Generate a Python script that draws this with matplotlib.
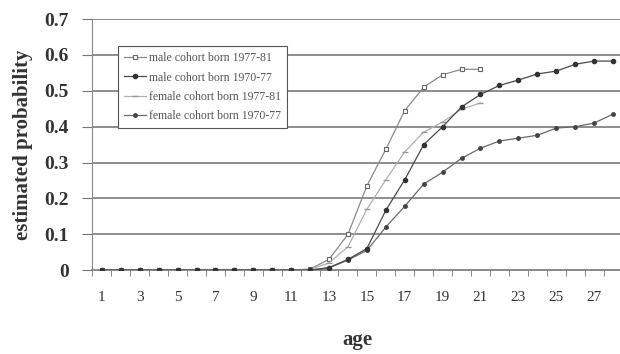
import matplotlib
matplotlib.use("Agg")
import matplotlib.pyplot as plt
import numpy as np

# wiek (kategorie na osi x)
ages = list(range(1, 29))
ages_young = list(range(1, 22))

# oszacowane prawdopodobieństwa
male_77_81 = [0] * 11 + [0.003, 0.03, 0.10, 0.235, 0.337, 0.445, 0.51, 0.545, 0.56, 0.56]
male_70_77 = [0] * 12 + [0.007, 0.03, 0.06, 0.167, 0.252, 0.35, 0.40, 0.455, 0.49,
                         0.515, 0.53, 0.547, 0.555, 0.574, 0.583, 0.583]
female_77_81 = [0] * 11 + [0.002, 0.02, 0.065, 0.17, 0.252, 0.33, 0.385, 0.413, 0.449, 0.466]
female_70_77 = [0] * 12 + [0.006, 0.028, 0.055, 0.12, 0.178, 0.24, 0.273, 0.312, 0.34,
                           0.36, 0.368, 0.376, 0.396, 0.40, 0.41, 0.435]

y_ticks = [0, 0.1, 0.2, 0.3, 0.4, 0.5, 0.6, 0.7]
y_labels = ["0", "0.1", "0.2", "0.3", "0.4", "0.5", "0.6", "0.7"]
x_labels = [str(a) for a in range(1, 29, 2)]

plt.rcParams["font.family"] = ["Liberation Serif", "DejaVu Serif"]

fig = plt.figure(figsize=(6.2, 3.54), dpi=100)
ax = fig.add_axes([0.149, 0.237, 0.855, 0.709])

for y in y_ticks[1:]:
    ax.axhline(y, color="#7a7a7a", lw=1.2, zorder=1)

ax.plot(ages_young, male_77_81, color="#8a8a8a", lw=0.9, marker="s", ms=3,
        mfc="white", mec="#666666", mew=0.8, label="male cohort born 1977-81", zorder=3)
ax.plot(ages, male_70_77, color="#4a4a4a", lw=0.9, marker="o", ms=3,
        mfc="#333333", mec="#333333", label="male cohort born 1970-77", zorder=4)
ax.plot(ages_young, female_77_81, color="#b0b0b0", lw=0.9, marker="_", ms=4,
        mec="#999999", mew=1.0, label="female cohort born 1977-81", zorder=3)
ax.plot(ages, female_70_77, color="#6a6a6a", lw=0.9, marker="o", ms=2.5,
        mfc="#444444", mec="#444444", label="female cohort born 1970-77", zorder=3)

ax.set_xlim(0.5, 28.5)
ax.set_ylim(0, 0.7)
ax.set_yticks(y_ticks)
ax.set_yticklabels(y_labels, fontsize=14, fontweight="bold", color="#333333")
ax.set_xticks(range(1, 29, 2))
ax.set_xticklabels(x_labels, fontsize=11, color="#333333")
ax.set_xticks(np.arange(0.5, 29, 1), minor=True)
ax.tick_params(axis="x", which="major", length=0, pad=15)
ax.tick_params(axis="x", which="minor", length=4, color="#777777", direction="out")
ax.tick_params(axis="y", length=7, color="#777777", pad=10)

for side in ["top", "right"]:
    ax.spines[side].set_visible(False)
ax.spines["left"].set_color("#888888")
ax.spines["bottom"].set_color("#777777")
ax.spines["bottom"].set_linewidth(1.2)

ax.set_ylabel("estimated probability", fontsize=15, fontweight="bold", color="#333333", labelpad=8)
ax.set_xlabel("age", fontsize=15, fontweight="bold", color="#333333", labelpad=19)

leg = ax.legend(loc="upper left", bbox_to_anchor=(0.038, 0.915), fontsize=8.5,
                frameon=True, fancybox=False, edgecolor="#555555", framealpha=1,
                handlelength=1.8, labelspacing=0.62, borderpad=0.5, handletextpad=0.3)
leg.get_frame().set_linewidth(0.8)
for t in leg.get_texts():
    t.set_color("#555555")

fig.savefig("out.png", dpi=100)
